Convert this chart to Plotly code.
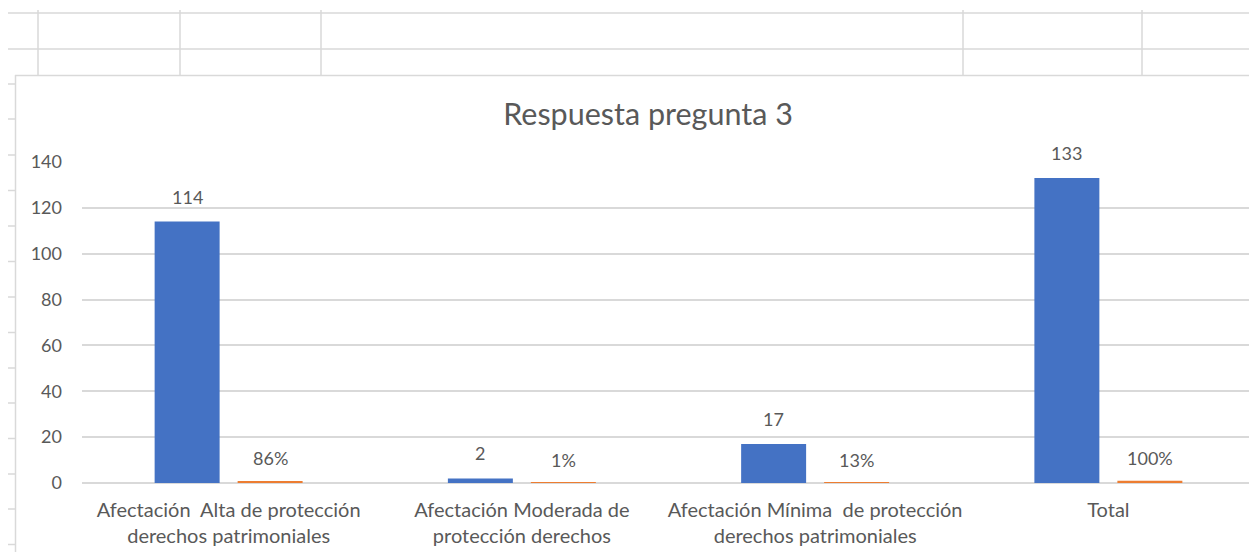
import plotly.graph_objects as go

categories = [
    "Afectación  Alta de protección<br>derechos patrimoniales",
    "Afectación Moderada de<br>protección derechos",
    "Afectación Mínima  de protección<br>derechos patrimoniales",
    "Total",
]
counts = [114, 2, 17, 133]
shares = [0.86, 0.01, 0.13, 1.00]
y_ticks = [0, 20, 40, 60, 80, 100, 120, 140]

OFF = 8  # page body margin
W, H = 1257 - OFF, 552 - OFF
TXT = "#595959"
GRID = "#d9d9d9"
FONT = "Lato"

fig = go.Figure()
fig.add_trace(go.Bar(x=categories, y=counts, marker_color="#4472C4", name="Cantidad",
                     marker_line_width=0))
fig.add_trace(go.Bar(x=categories, y=shares, marker_color="#ED7D31", name="Porcentaje",
                     marker_line_width=0))

# data labels
for c, v in zip(categories, counts):
    fig.add_annotation(x=c, y=v, text=str(v), showarrow=False, xshift=-41.5,
                       yanchor="bottom", yshift=12,
                       font=dict(family=FONT, size=18, color=TXT))
for c, v in zip(categories, shares):
    fig.add_annotation(x=c, y=v, text=f"{v:.0%}", showarrow=False, xshift=41.5,
                       yanchor="bottom", yshift=10,
                       font=dict(family=FONT, size=18, color=TXT))

# plot area in reference pixels: x 82..1255, y 162..483
L = 82 - OFF
R = 1257 - 1255
T = 162 - OFF
B = 552 - 483
pw, ph = W - L - R, H - T - B
def px(x):
    return (x - OFF - L) / pw
def py(y):
    return (H - B - (y - OFF)) / ph

shapes = []
line = dict(color=GRID, width=1.5)
for yy in [13, 49]:
    shapes.append(dict(type="line", xref="paper", yref="paper", x0=px(8), x1=px(1257),
                       y0=py(yy), y1=py(yy), line=line, layer="below"))
for xx in [38, 180, 321, 963, 1142]:
    shapes.append(dict(type="line", xref="paper", yref="paper", x0=px(xx), x1=px(xx),
                       y0=py(10), y1=py(75), line=line, layer="below"))
for yy in [84, 119, 155, 190.5, 226, 261.5, 297, 332.5, 368, 403, 438.5, 474, 509, 544.5]:
    shapes.append(dict(type="line", xref="paper", yref="paper", x0=px(7), x1=px(15),
                       y0=py(yy), y1=py(yy), line=line, layer="below"))
# chart area border
shapes.append(dict(type="line", xref="paper", yref="paper", x0=px(15), x1=px(1257),
                   y0=py(75.5), y1=py(75.5), line=dict(color=GRID, width=1.5)))
shapes.append(dict(type="line", xref="paper", yref="paper", x0=px(15.5), x1=px(15.5),
                   y0=py(75), y1=py(552), line=dict(color=GRID, width=1.5)))

fig.update_layout(
    width=W, height=H,
    margin=dict(l=L, r=R, t=T, b=B),
    paper_bgcolor="white", plot_bgcolor="white",
    barmode="group", bargap=0.434, bargroupgap=0.217,
    showlegend=False,
    title=dict(text="Respuesta pregunta 3", x=(648 - OFF) / W, xanchor="center",
               y=1 - (114 - OFF) / H, yanchor="middle", yref="container",
               font=dict(family=FONT, size=30.5, color=TXT)),
    font=dict(family=FONT, color=TXT),
    shapes=shapes,
)
fig.update_yaxes(range=[0, 140], tickvals=y_ticks, showgrid=True, gridcolor=GRID,
                 gridwidth=1.5, zeroline=True, zerolinecolor=GRID, zerolinewidth=1.5,
                 showline=False, ticks="", ticklabelstandoff=19,
                 tickfont=dict(family=FONT, size=18, color=TXT))
fig.update_xaxes(showline=False, ticks="", ticklabelstandoff=13,
                 tickfont=dict(family=FONT, size=20, color=TXT))

fig.write_html("out.html")
